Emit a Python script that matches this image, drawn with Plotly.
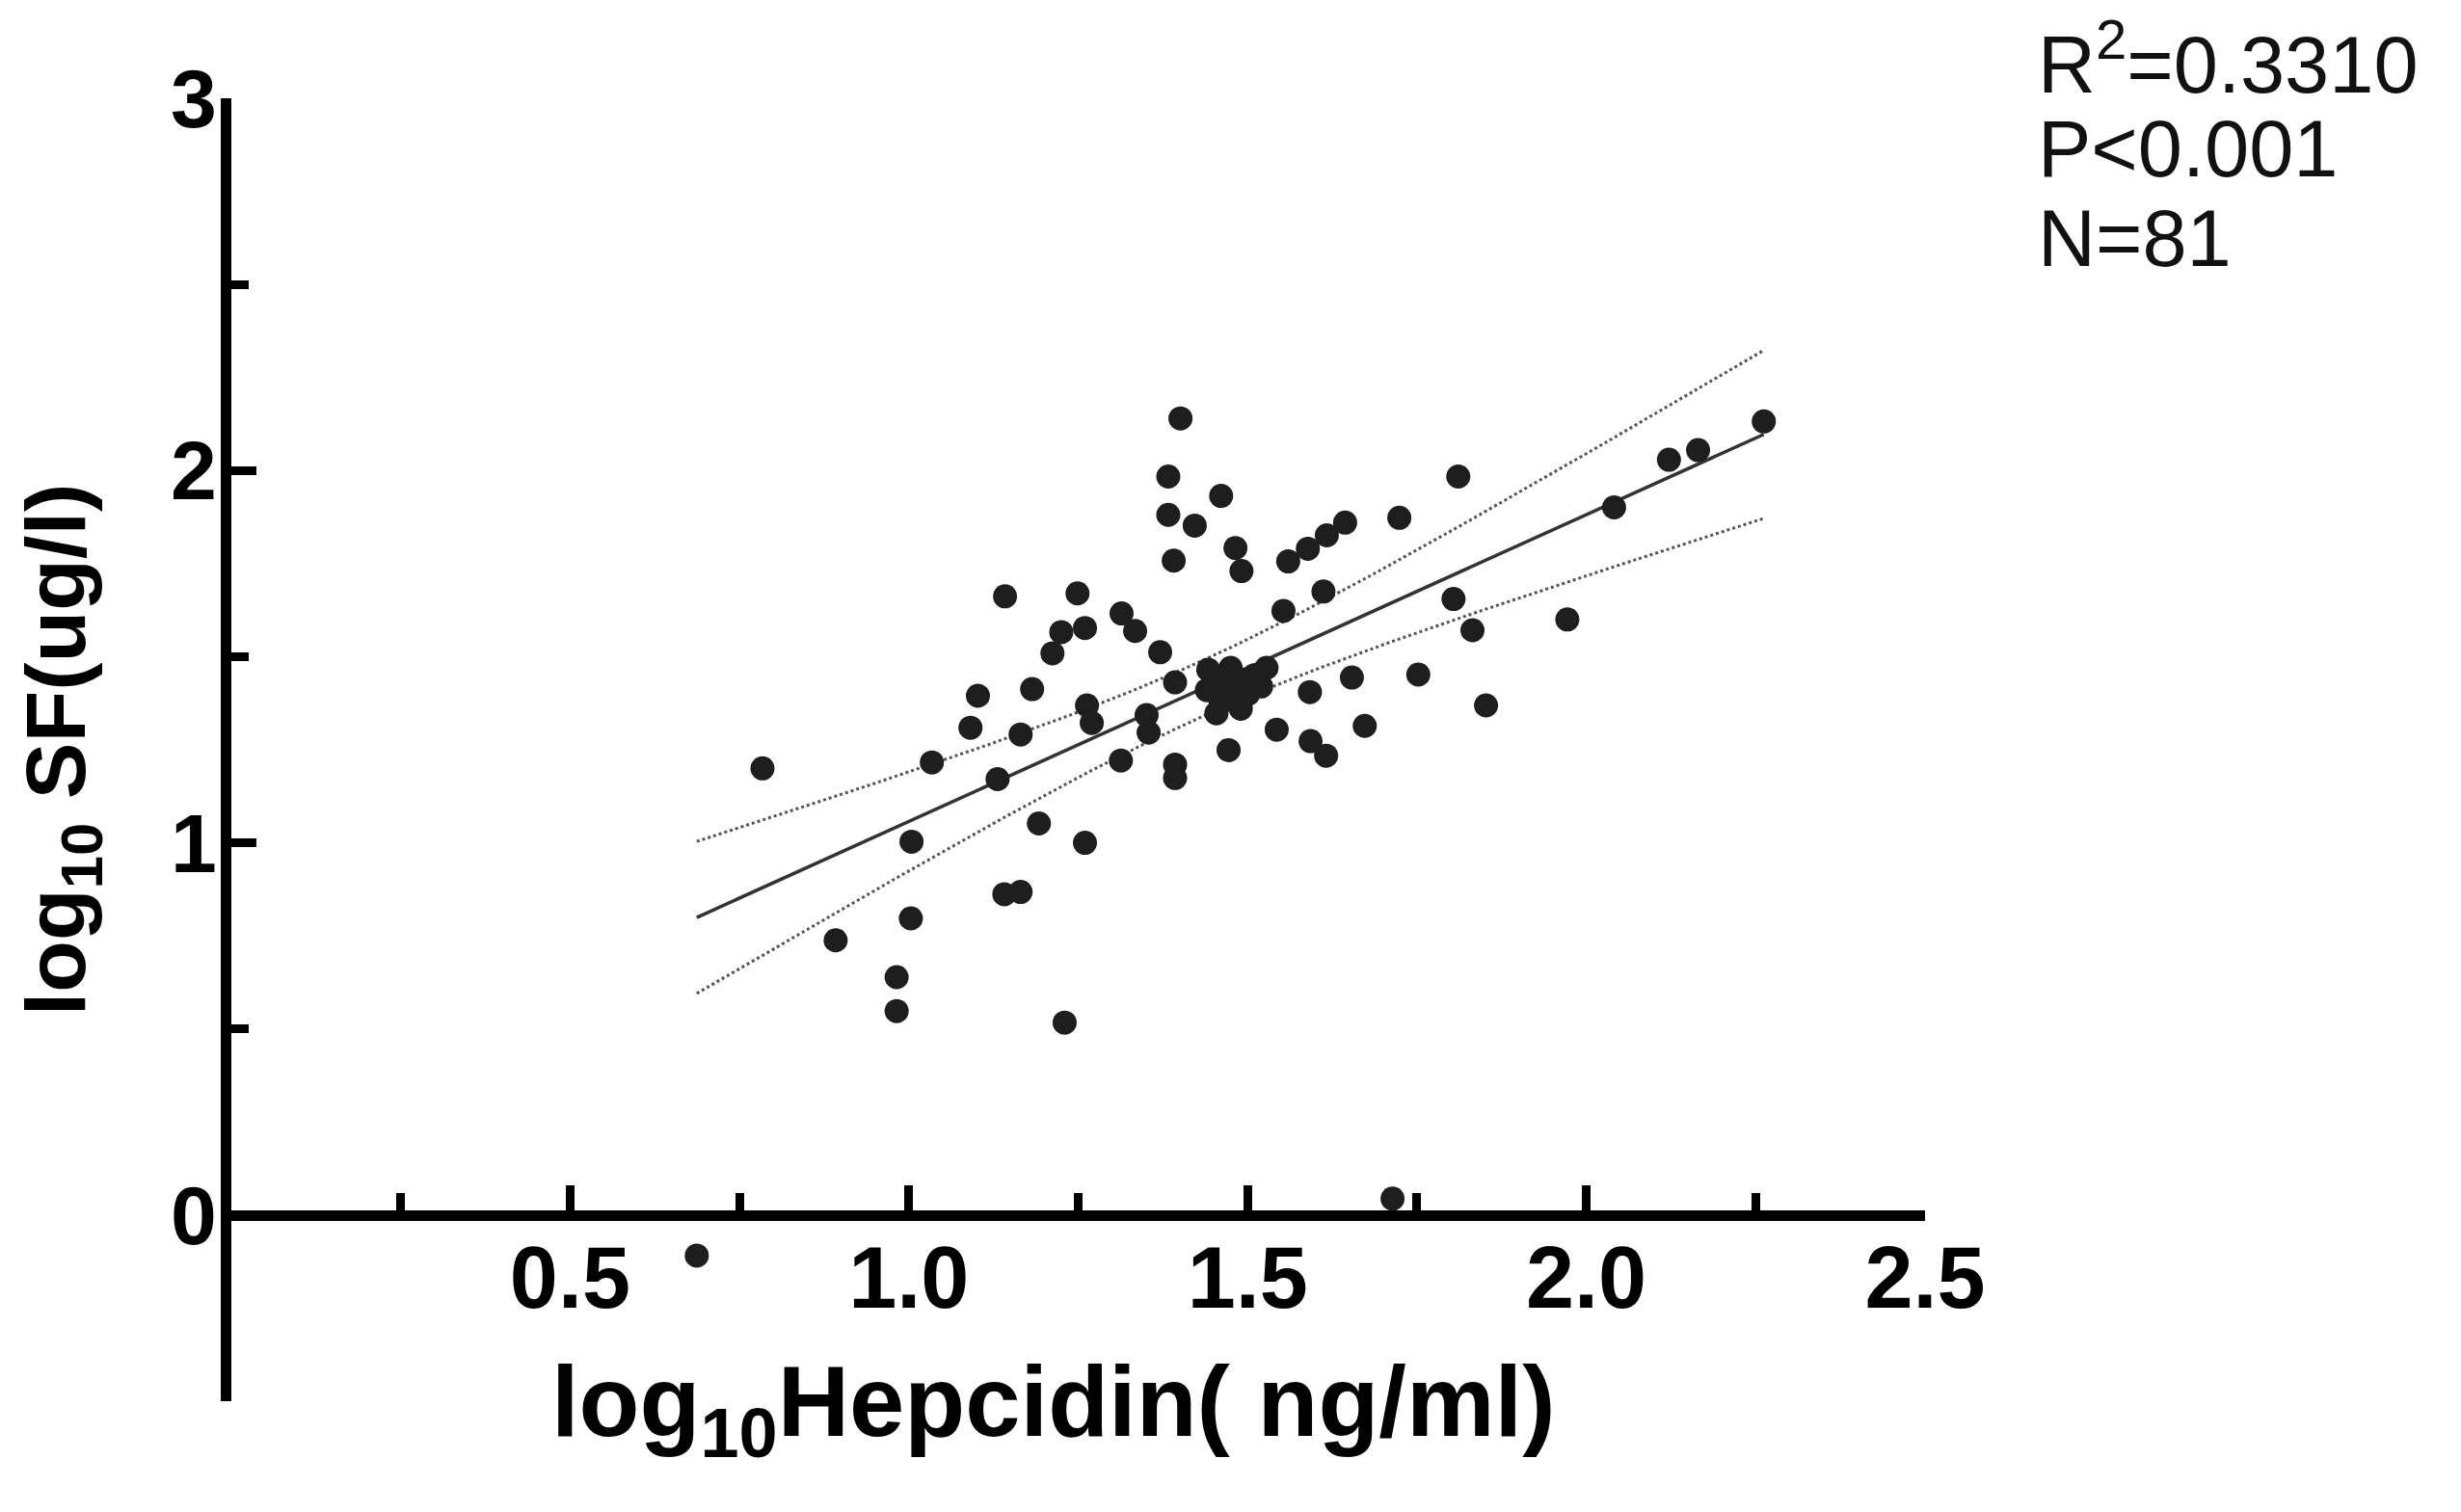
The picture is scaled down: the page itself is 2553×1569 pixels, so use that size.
import numpy as np
import plotly.graph_objects as go

# log10 hepcidin (x) and log10 serum ferritin (y)
hepcidin = [1.091, 1.165, 1.034, 0.784, 1.131, 1.192, 1.260, 1.004, 1.141, 1.165,
            1.003, 0.892, 0.982, 0.982, 1.230, 1.142, 1.249, 1.225, 1.260, 1.212,
            1.102, 1.182, 1.263, 1.270, 1.401, 1.383, 1.461, 1.383, 1.422, 1.391,
            1.482, 1.491, 1.560, 1.589, 1.617, 1.644, 1.724, 1.811, 1.612, 1.553,
            1.314, 1.334, 1.371, 1.804, 1.832, 1.654, 1.752, 1.592, 1.393, 1.442,
            1.475, 1.528, 1.501, 1.454, 1.479, 1.543, 1.673, 1.351, 1.354, 1.313,
            1.393, 1.393, 1.472, 1.593, 1.616, 2.262, 2.122, 2.165, 2.041, 1.972,
            1.852, 0.687, 1.714, 1.460, 1.500, 1.480, 1.460, 1.510, 1.440, 1.490,
            1.520]
sf = [1.309, 1.291, 1.216, 1.200, 1.171, 1.052, 1.000, 1.003, 0.862, 0.868,
      0.797, 0.738, 0.639, 0.548, 0.517, 1.662, 1.670, 1.566, 1.577, 1.509,
      1.395, 1.413, 1.369, 1.322, 2.140, 1.984, 1.932, 1.881, 1.852, 1.758,
      1.792, 1.730, 1.756, 1.790, 1.826, 1.860, 1.873, 1.984, 1.675, 1.623,
      1.616, 1.569, 1.512, 1.655, 1.571, 1.444, 1.452, 1.405, 1.431, 1.465,
      1.470, 1.470, 1.400, 1.348, 1.382, 1.304, 1.314, 1.343, 1.296, 1.221,
      1.210, 1.174, 1.249, 1.273, 1.234, 2.132, 2.029, 2.055, 1.901, 1.600,
      1.369, -0.109, 0.044, 1.440, 1.440, 1.430, 1.380, 1.450, 1.410, 1.360,
      1.420]

stats_lines = ["R<sup>2</sup>=0.3310", "P<0.001", "N=81"]

x = np.array(hepcidin)
y = np.array(sf)

# linear fit + 95% confidence band of the mean
slope, intercept = np.polyfit(x, y, 1)
xs = np.linspace(x.min(), x.max(), 120)
fit = intercept + slope * xs
n = len(x)
s = np.sqrt(np.sum((y - (intercept + slope * x)) ** 2) / (n - 2))
sxx = np.sum((x - x.mean()) ** 2)
half = 1.9905 * s * np.sqrt(1 / n + (xs - x.mean()) ** 2 / sxx)

fig = go.Figure()
fig.add_trace(go.Scatter(x=xs, y=fit + half, mode="lines",
                         line=dict(color="#555555", width=3, dash="dot"), hoverinfo="skip"))
fig.add_trace(go.Scatter(x=xs, y=fit - half, mode="lines",
                         line=dict(color="#555555", width=3, dash="dot"), hoverinfo="skip"))
fig.add_trace(go.Scatter(x=xs, y=fit, mode="lines",
                         line=dict(color="#333333", width=3.5), hoverinfo="skip"))
fig.add_trace(go.Scatter(x=hepcidin, y=sf, mode="markers",
                         marker=dict(color="#1e1e1e", size=25, line=dict(width=0))))

font_family = "Liberation Sans, Arial, sans-serif"

fig.update_layout(
    width=2553, height=1569,
    margin=dict(l=232, r=564, t=94, b=123),
    plot_bgcolor="white", paper_bgcolor="white",
    showlegend=False,
    font=dict(family=font_family, color="black"),
    xaxis=dict(
        range=[0, 2.5], anchor="free", position=0.5 / 3.5,
        showgrid=False, zeroline=False,
        showline=True, linecolor="black", linewidth=11,
        ticks="inside", ticklen=26, tickwidth=9, tickcolor="black",
        tickvals=[0.5, 1.0, 1.5, 2.0, 2.5],
        ticktext=["0.5", "1.0", "1.5", "2.0", "2.5"],
        tickfont=dict(size=90, weight="bold"),
        ticklabelstandoff=-18,
        minor=dict(tickvals=[0.25, 0.75, 1.25, 1.75, 2.25], ticks="inside",
                   ticklen=18, tickwidth=9, tickcolor="black"),
    ),
    yaxis=dict(
        range=[-0.5, 3],
        showgrid=False, zeroline=False,
        showline=True, linecolor="black", linewidth=11,
        ticks="inside", ticklen=26, tickwidth=9, tickcolor="black",
        tickvals=[0, 1, 2, 3],
        tickfont=dict(size=86, weight="bold"),
        ticklabelstandoff=-13,
        minor=dict(tickvals=[0.5, 1.5, 2.5], ticks="inside",
                   ticklen=18, tickwidth=9, tickcolor="black"),
        title=dict(text="log<sub>10</sub> SF(ug/l)",
                   font=dict(size=88, weight="bold"), standoff=68),
    ),
)

# x title placed by hand (it sits a little left of the plot centre)
fig.add_annotation(text="log<sub>10</sub>Hepcidin( ng/ml)", xref="paper", yref="paper",
                   x=0.485, y=-0.006, xanchor="center", yanchor="middle",
                   showarrow=False, font=dict(size=103, weight="bold"))

for i, line in enumerate(stats_lines):
    fig.add_annotation(text=line, xref="paper", yref="paper",
                       x=1.0655, y=1.030 - 0.0688 * i,
                       xanchor="left", yanchor="middle", showarrow=False,
                       font=dict(size=83, color="#111111"))

fig.write_html("out.html")
